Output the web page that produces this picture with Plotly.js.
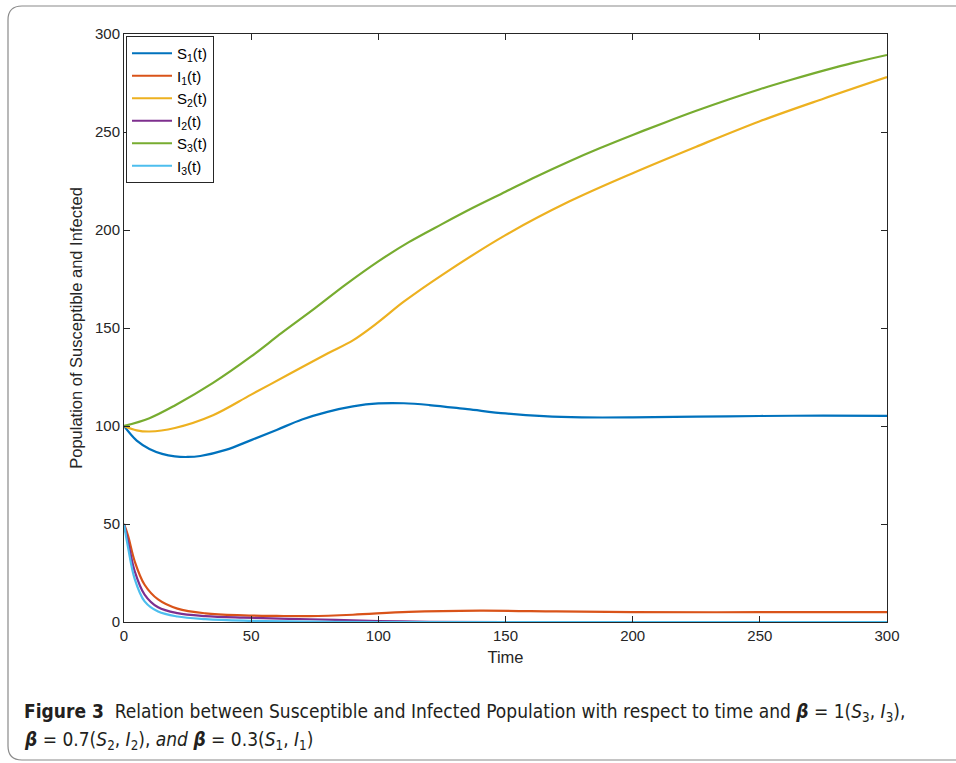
<!DOCTYPE html>
<html>
<head>
<meta charset="utf-8">
<script src="https://cdn.plot.ly/plotly-3.0.1.min.js"></script>
<style>html,body{margin:0;padding:0;background:#fff;}#chart{width:956px;height:763px;}</style>
</head>
<body>
<div id="chart"></div>
<script>
// S1(t)
const tS1 = [0, 5, 10, 15, 20, 25, 30, 40, 50, 60, 70, 80, 90, 100, 110, 120, 135, 150, 165, 180, 200, 225, 250, 275, 300];
const S1  = [100, 92.5, 88.3, 85.8, 84.5, 84.2, 84.7, 87.8, 92.8, 98, 103.3, 107.2, 110, 111.5, 111.6, 110.7, 108.6, 106.4, 105, 104.4, 104.4, 104.8, 105.1, 105.3, 105.2];
// S2(t)
const tS2 = [0, 5, 10, 20, 35, 50, 65, 80, 90, 100, 110, 125, 150, 175, 200, 225, 250, 275, 300];
const S2  = [100, 97.8, 97.2, 99, 105.5, 116, 126.5, 137, 143.7, 153, 163.4, 177, 197.4, 214.5, 229, 242.5, 255.5, 267, 278];
// S3(t)
const tS3 = [0, 10, 20, 35, 50, 62, 75, 87, 100, 112, 125, 137, 150, 162, 175, 187, 200, 213, 225, 238, 250, 262, 275, 287, 300];
const S3  = [100, 104, 110.5, 122, 135.5, 147.5, 160, 172, 184, 193.8, 203, 211.2, 219.5, 227.2, 235, 241.7, 248.5, 255, 260.8, 266.7, 271.8, 276.5, 281.3, 285.4, 289.3];
// I1(t)
const tI1 = [0, 1.6, 4.2, 8.1, 13.4, 21, 32, 47, 60, 73, 90, 112, 140, 170, 200, 250, 300];
const I1  = [50, 44, 31, 19, 11.5, 6.8, 4.4, 3.4, 3.1, 3.0, 3.7, 5.2, 5.8, 5.4, 5.0, 5.0, 5.0];
// I2(t)
const tI2 = [0, 1.6, 4.2, 8.1, 13.4, 21, 32, 47, 73, 100, 120, 150, 200, 250, 300];
const I2  = [50, 41, 26, 14, 7.5, 4.5, 3.0, 2.2, 1.4, 0.5, 0.1, 0, 0, 0, 0];
// I3(t)
const tI3 = [0, 1.6, 4.2, 8.1, 13.4, 21, 32, 47, 73, 100, 150, 200, 250, 300];
const I3  = [50, 38, 22, 10.5, 5.3, 2.8, 1.5, 0.7, 0.2, 0, 0, 0, 0, 0];

const names = ['S<sub>1</sub>(t)', 'I<sub>1</sub>(t)', 'S<sub>2</sub>(t)', 'I<sub>2</sub>(t)', 'S<sub>3</sub>(t)', 'I<sub>3</sub>(t)'];
const xTickVals = [0, 50, 100, 150, 200, 250, 300];
const yTickVals = [0, 50, 100, 150, 200, 250, 300];

const colors = ['#0072BD', '#D95319', '#EDB120', '#7E2F8E', '#77AC30', '#4DBEEE'];
const xs = [tS1, tI1, tS2, tI2, tS3, tI3];
const ys = [S1, I1, S2, I2, S3, I3];

const traces = xs.map((x, i) => ({
  x: x, y: ys[i], name: names[i], type: 'scatter', mode: 'lines',
  line: {color: colors[i], width: 2.2, shape: 'spline', smoothing: 1}
}));

const font = 'Liberation Sans, Arial, sans-serif';
const capFont = 'DejaVu Sans Condensed, Noto Sans, sans-serif';
const axisCommon = {
  range: [0, 300], showgrid: false, zeroline: false,
  showline: true, mirror: 'ticks', linecolor: '#262626', linewidth: 1,
  ticks: 'inside', ticklen: 6, tickcolor: '#262626', tickwidth: 1,
  tickfont: {family: font, size: 15, color: '#262626'}
};

// pixel -> paper helpers for decoration
const L = 124, R = 887, T = 34, B = 622;
const px = v => (v - L) / (R - L);
const py = v => (B - v) / (B - T);
const fl = 8, ft = 6, fb = 760, fr = 980, rad = 14;
const framePath = `M ${px(fr)} ${py(ft)} L ${px(fl + rad)} ${py(ft)} Q ${px(fl)} ${py(ft)} ${px(fl)} ${py(ft + rad)} L ${px(fl)} ${py(fb - rad)} Q ${px(fl)} ${py(fb)} ${px(fl + rad)} ${py(fb)} L ${px(fr)} ${py(fb)}`;

const layout = {
  width: 956, height: 763,
  margin: {l: L, r: 956 - R, t: T, b: 763 - B},
  paper_bgcolor: '#fff', plot_bgcolor: '#fff',
  font: {family: font, color: '#262626'},
  xaxis: Object.assign({}, axisCommon, {tickvals: xTickVals,
    title: {text: 'Time', font: {family: font, size: 16.5, color: '#262626'}, standoff: 8}}),
  yaxis: Object.assign({}, axisCommon, {tickvals: yTickVals,
    title: {text: 'Population of Susceptible and Infected', font: {family: font, size: 16.5, color: '#262626'}, standoff: 8}}),
  showlegend: true,
  legend: {
    x: px(126), y: py(36), xanchor: 'left', yanchor: 'top',
    bgcolor: '#fff', bordercolor: '#262626', borderwidth: 1,
    font: {family: font, size: 15, color: '#000'},
    itemwidth: 40, tracegroupgap: 0
  },
  shapes: [{type: 'path', xref: 'paper', yref: 'paper', path: framePath,
    line: {color: '#8a8a8a', width: 1.2}, layer: 'below'}],
  annotations: [
    {xref: 'paper', yref: 'paper', x: px(22), y: py(713), xanchor: 'left', yanchor: 'middle',
     showarrow: false, align: 'left', font: {family: capFont, size: 19, color: '#231f20'},
     text: '<b>Figure 3</b>  Relation between Susceptible and Infected Population with respect to time and <b><i>β</i></b> = 1(<i>S</i><sub>3</sub>, <i>I</i><sub>3</sub>),'},
    {xref: 'paper', yref: 'paper', x: px(22), y: py(740), xanchor: 'left', yanchor: 'middle',
     showarrow: false, align: 'left', font: {family: capFont, size: 19, color: '#231f20'},
     text: '<b><i>β</i></b> = 0.7(<i>S</i><sub>2</sub>, <i>I</i><sub>2</sub>), <i>and</i> <b><i>β</i></b> = 0.3(<i>S</i><sub>1</sub>, <i>I</i><sub>1</sub>)'}
  ]
};

Plotly.newPlot('chart', traces, layout, {displayModeBar: false, staticPlot: true});
</script>
</body>
</html>
